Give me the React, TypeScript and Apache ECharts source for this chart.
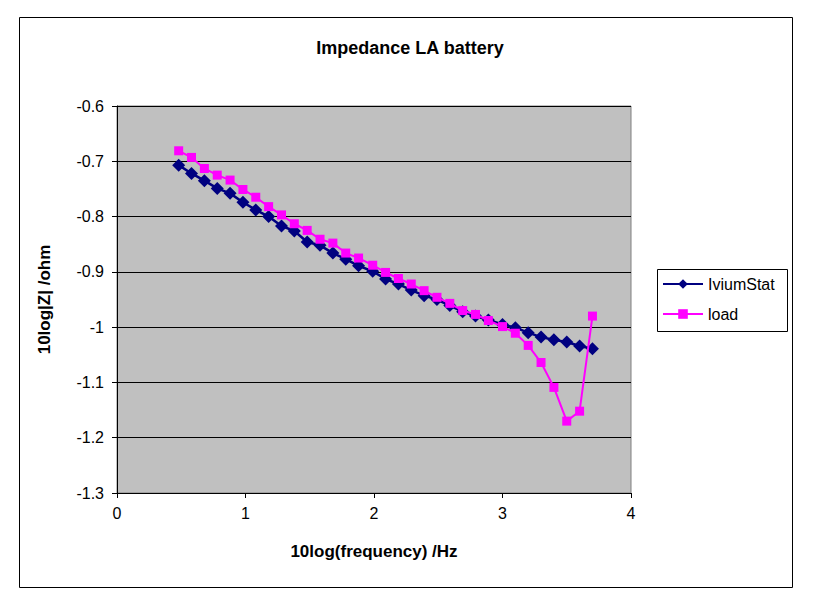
import React, { useEffect, useRef } from "react";
import * as echarts from "echarts";

const chartTitle = "Impedance LA battery";
const xName = "10log(frequency) /Hz";
const yName = "10log|Z| /ohm";
const seriesNames = ["IviumStat", "load"];

const logFreq = [
  0.48, 0.58, 0.68, 0.78, 0.88, 0.98, 1.08, 1.18, 1.28, 1.38, 1.48,
  1.58, 1.68, 1.78, 1.88, 1.99, 2.09, 2.19, 2.29, 2.39, 2.49, 2.59,
  2.69, 2.79, 2.89, 3.0, 3.1, 3.2, 3.3, 3.4, 3.5, 3.6, 3.7,
];

const iviumStat = [
  -0.707, -0.722, -0.735, -0.749, -0.758, -0.774, -0.788, -0.8, -0.817, -0.826, -0.846,
  -0.852, -0.866, -0.877, -0.889, -0.899, -0.913, -0.922, -0.933, -0.943, -0.95, -0.961,
  -0.972, -0.98, -0.987, -0.995, -1.001, -1.01, -1.018, -1.023, -1.027, -1.034, -1.039,
];

const loadValues = [
  -0.681, -0.693, -0.713, -0.725, -0.734, -0.751, -0.765, -0.782, -0.797, -0.813, -0.825,
  -0.841, -0.848, -0.866, -0.875, -0.888, -0.901, -0.912, -0.922, -0.934, -0.946, -0.957,
  -0.97, -0.977, -0.988, -0.999, -1.011, -1.033, -1.064, -1.109, -1.17, -1.152, -0.98,
];

const FONT = "'Liberation Sans', Arial, sans-serif";

export default function App() {
  const ref = useRef<HTMLDivElement>(null);

  useEffect(() => {
    if (!ref.current) return;
    const chart = echarts.init(ref.current, undefined, { renderer: "svg" });
    chart.setOption({
      animation: false,
      backgroundColor: "#ffffff",
      textStyle: { fontFamily: FONT },
      title: {
        text: chartTitle,
        left: 405,
        top: 34,
        textAlign: "center",
        textStyle: { fontFamily: FONT, fontSize: 18, fontWeight: "bold", color: "#000" },
      },
      graphic: [
        {
          type: "rect",
          z: 0,
          shape: { x: 19.5, y: 17.5, width: 773, height: 570 },
          style: { fill: "none", stroke: "#000", lineWidth: 1 },
        },
        {
          type: "rect",
          z: 0,
          shape: { x: 657.5, y: 269.5, width: 130, height: 62 },
          style: { fill: "#fff", stroke: "#000", lineWidth: 1 },
        },
      ],
      legend: {
        orient: "vertical",
        left: 662,
        top: 276,
        padding: 0,
        itemWidth: 40,
        itemHeight: 12,
        itemGap: 14,
        z: 10,
        textStyle: { fontFamily: FONT, fontSize: 16, color: "#000", padding: [0, 0, 0, 0] },
        data: seriesNames,
      },
      grid: {
        left: 117,
        top: 106,
        width: 514,
        height: 387,
        show: true,
        backgroundColor: "#C0C0C0",
        borderColor: "#808080",
        borderWidth: 1,
      },
      xAxis: {
        type: "value",
        min: 0,
        max: 4,
        interval: 1,
        name: xName,
        nameLocation: "middle",
        nameGap: 50,
        nameTextStyle: { fontFamily: FONT, fontSize: 17, fontWeight: "bold", color: "#000" },
        axisLine: { show: true, onZero: false, lineStyle: { color: "#000", width: 1 } },
        axisTick: { show: true, inside: false, length: 5, lineStyle: { color: "#000" } },
        axisLabel: { fontFamily: FONT, fontSize: 16, color: "#000", margin: 12 },
        splitLine: { show: false },
      },
      yAxis: {
        type: "value",
        min: -1.3,
        max: -0.6,
        interval: 0.1,
        name: yName,
        nameLocation: "middle",
        nameRotate: 90,
        nameGap: 64,
        nameTextStyle: { fontFamily: FONT, fontSize: 17, fontWeight: "bold", color: "#000" },
        axisLine: { show: true, onZero: false, lineStyle: { color: "#000", width: 1 } },
        axisTick: { show: true, inside: false, length: 5, lineStyle: { color: "#000" } },
        axisLabel: {
          fontFamily: FONT,
          fontSize: 16,
          color: "#000",
          margin: 13,
          formatter: (v: number) => String(Math.round(v * 10) / 10),
        },
        splitLine: { show: true, lineStyle: { color: "#000", width: 1 } },
      },
      series: [
        {
          name: seriesNames[0],
          type: "line",
          data: logFreq.map((x, i) => [x, iviumStat[i]]),
          symbol: "diamond",
          symbolSize: 13,
          lineStyle: { color: "#000080", width: 2.5 },
          itemStyle: { color: "#000080" },
          z: 2,
        },
        {
          name: seriesNames[1],
          type: "line",
          data: logFreq.map((x, i) => [x, loadValues[i]]),
          symbol: "rect",
          symbolSize: 9,
          lineStyle: { color: "#FF00FF", width: 2 },
          itemStyle: { color: "#FF00FF" },
          z: 3,
        },
      ],
    });
    return () => chart.dispose();
  }, []);

  return (
    <div
      ref={ref}
      style={{ position: "absolute", left: 0, top: 0, width: 815, height: 604 }}
    />
  );
}
